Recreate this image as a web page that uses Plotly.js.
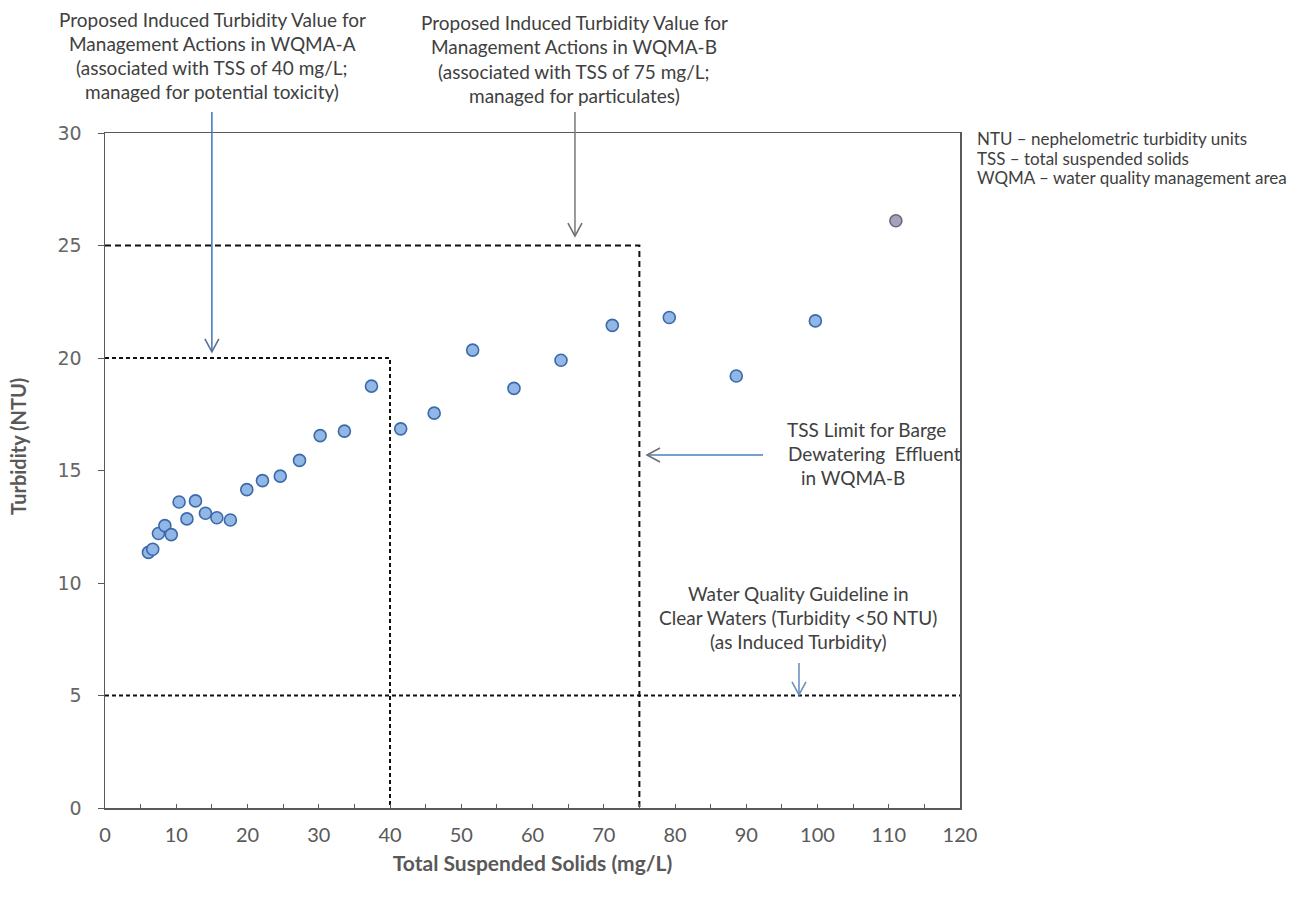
<!DOCTYPE html>
<html>
<head>
<meta charset="utf-8">
<script src="https://cdn.plot.ly/plotly-3.0.1.min.js"></script>
<style>html,body{margin:0;padding:0;background:#fff;}#chart{width:1316px;height:901px;}</style>
</head>
<body>
<div id="chart"></div>
<script>
// ---- data ----
const tss = [6.1, 6.7, 7.5, 8.4, 9.3, 10.4, 11.5, 12.7, 14.1, 15.7, 17.6, 19.9, 22.1, 24.6, 27.3, 30.2, 33.6, 37.4, 41.5, 46.2, 51.6, 57.4, 64.0, 71.2, 79.2, 88.6, 99.7, 111.0];
const turbidity = [11.36, 11.5, 12.2, 12.55, 12.15, 13.6, 12.85, 13.65, 13.1, 12.9, 12.8, 14.15, 14.55, 14.75, 15.45, 16.55, 16.75, 18.75, 16.85, 17.55, 20.35, 18.65, 19.9, 21.45, 21.8, 19.2, 21.65, 26.1];
const tssLimits = [40, 75];          // mg/L (WQMA-A, WQMA-B)
const turbidityLimits = [20, 25];    // NTU (WQMA-A, WQMA-B)
const guidelineNTU = 5;
const xTickLabels = ['0','10','20','30','40','50','60','70','80','90','100','110','120'];
const yTickLabels = ['0','5','10','15','20','25','30'];

// ---- geometry helpers (plot area) ----
const L = 105, R = 960, T = 133, B = 808, W = 1316, H = 901;
const XMAX = 120, YMAX = 30;
const pxX = p => (p - L) / (R - L);
const pxY = p => (B - p) / (B - T);
const dX = v => v / XMAX;
const dY = v => v / YMAX;

const textColor = '#404040';
const fontFam = 'Lato, "Open Sans", sans-serif';

const markerFill = tss.map((_, i) => i === tss.length - 1 ? '#a6a3b8' : '#91b7e6');
const markerLine = tss.map((_, i) => i === tss.length - 1 ? '#6a6782' : '#3c69a8');

const dashLine = {color: '#111', width: 2, dash: '4px,3px'};
const traces = [
  {x: [0, tssLimits[1], tssLimits[1]], y: [turbidityLimits[1], turbidityLimits[1], 0], mode: 'lines',
   line: {color: '#111', width: 2, dash: '6px,4px'}, hoverinfo: 'skip', showlegend: false},
  {x: [0, tssLimits[0], tssLimits[0]], y: [turbidityLimits[0], turbidityLimits[0], 0], mode: 'lines',
   line: dashLine, hoverinfo: 'skip', showlegend: false},
  {x: [0, XMAX], y: [guidelineNTU, guidelineNTU], mode: 'lines', line: dashLine, hoverinfo: 'skip', showlegend: false},
  {x: tss, y: turbidity, mode: 'markers', type: 'scatter', showlegend: false,
   marker: {size: 12, color: markerFill, line: {color: markerLine, width: 1.6}}}
];

// ---- arrows (in data units, converted to paper) ----
const shapes = [];
function arrow(x0, y0, x1, y1, lineColor, headColor) {
  shapes.push({type: 'line', xref: 'paper', yref: 'paper', x0: dX(x0), y0: dY(y0), x1: dX(x1), y1: dY(y1),
    line: {color: lineColor, width: 1.6}});
  const ax = L + x1 * (R - L) / XMAX, ay = B - y1 * (B - T) / YMAX;
  const bx = L + x0 * (R - L) / XMAX, by = B - y0 * (B - T) / YMAX;
  const len = Math.hypot(ax - bx, ay - by);
  const ux = (ax - bx) / len, uy = (ay - by) / len;
  const back = 13, lat = 7;
  const p1 = [ax - ux * back - uy * lat, ay - uy * back + ux * lat];
  const p2 = [ax - ux * back + uy * lat, ay - uy * back - ux * lat];
  const path = `M${pxX(p1[0])},${pxY(p1[1])} L${pxX(ax)},${pxY(ay)} L${pxX(p2[0])},${pxY(p2[1])}`;
  shapes.push({type: 'path', xref: 'paper', yref: 'paper', path: path, line: {color: headColor, width: 1.6}});
}
arrow(15, 30.93, 15, 20.27, '#4a7ebb', '#5a6f96');
arrow(65.96, 30.93, 65.96, 25.42, '#808080', '#707070');
arrow(92.35, 15.69, 76.07, 15.69, '#4a7ebb', '#707070');
arrow(97.4, 6.44, 97.4, 5.03, '#6f8fbf', '#6f8fbf');

// ---- text annotations ----
const annotations = [];
function block(lines, cx, ys, size, anchor) {
  lines.forEach((t, i) => {
    const c = Array.isArray(cx) ? cx[i] : cx;
    annotations.push({xref: 'paper', yref: 'paper', x: pxX(c), y: pxY(ys[i]), text: t, showarrow: false,
      xanchor: anchor || 'center', yanchor: 'middle', font: {family: fontFam, size: size, color: textColor}});
  });
}
block(['Proposed Induced Turbidity Value for', 'Management Actions in WQMA-A', '(associated with TSS of 40 mg/L;', 'managed for potential toxicity)'],
  212, [20, 44, 68, 92], 19);
block(['Proposed Induced Turbidity Value for', 'Management Actions in WQMA-B', '(associated with TSS of 75 mg/L;', 'managed for particulates)'],
  574, [22, 46, 71, 96], 19);
block(['NTU – nephelometric turbidity units', 'TSS – total suspended solids', 'WQMA – water quality management area'],
  975, [139, 158, 177], 17, 'left');
block(['TSS Limit for Barge', 'Dewatering  Effluent', 'in WQMA-B'], [866, 874, 853], [429, 453, 477], 19);
block(['Water Quality Guideline in', 'Clear Waters (Turbidity <50 NTU)', '(as Induced Turbidity)'], 798, [593, 617, 641], 19);

// y-axis title placed as rotated text (reference sits above the axis middle)
annotations.push({xref: 'paper', yref: 'paper', x: pxX(18), y: pxY(447), text: '<b>Turbidity (NTU)</b>', textangle: -90,
  showarrow: false, xanchor: 'center', yanchor: 'middle', font: {family: fontFam, size: 20, color: '#595959'}});

const layout = {
  width: W, height: H,
  margin: {l: L, r: W - R, t: T, b: H - B, pad: 0},
  paper_bgcolor: '#fff', plot_bgcolor: '#fff',
  showlegend: false,
  xaxis: {
    range: [0, XMAX], tickmode: 'array', tickvals: xTickLabels.map(Number), ticktext: xTickLabels,
    ticks: 'inside', ticklen: 4, tickcolor: '#595959', tickwidth: 1,
    minor: {dtick: 5, tick0: 0, ticks: 'inside', ticklen: 4, tickcolor: '#595959'},
    showgrid: false, zeroline: false, showline: true, mirror: true, linecolor: '#595959', linewidth: 1.5,
    tickfont: {family: fontFam, size: 20, color: '#595959'}, ticklabelstandoff: 8,
    title: {text: '<b>Total Suspended Solids (mg/L)</b>', font: {family: fontFam, size: 21, color: '#595959'}, standoff: 12}
  },
  yaxis: {
    range: [0, YMAX], tickmode: 'array', tickvals: yTickLabels.map(Number), ticktext: yTickLabels,
    ticks: 'outside', ticklen: 6, tickcolor: '#595959', tickwidth: 1,
    showgrid: false, zeroline: false, showline: true, mirror: true, linecolor: '#595959', linewidth: 1.5,
    tickfont: {family: '"DejaVu Sans", sans-serif', size: 19, color: '#666666'}, ticklabelstandoff: 12
  },
  shapes: shapes,
  annotations: annotations
};

Plotly.newPlot('chart', traces, layout, {displayModeBar: false, staticPlot: true});
</script>
</body>
</html>
